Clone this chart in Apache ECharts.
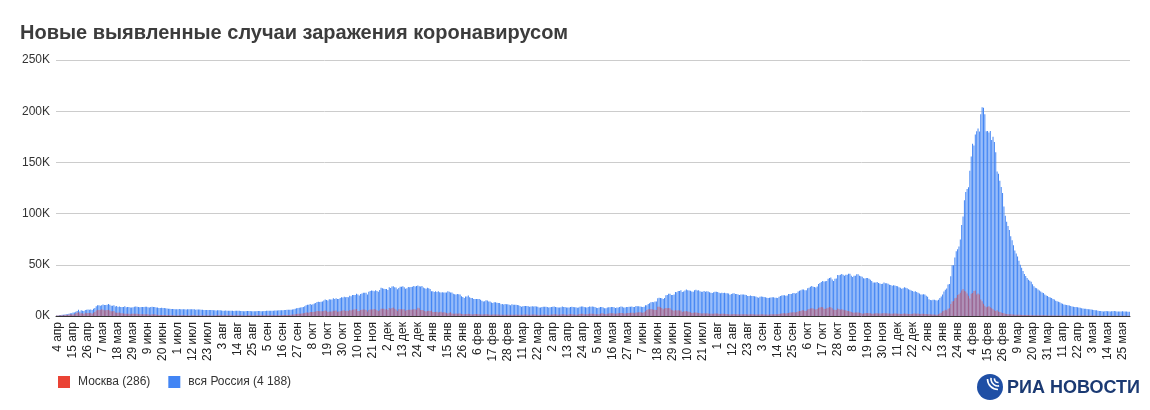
<!DOCTYPE html>
<html>
<head>
<meta charset="utf-8">
<script src="https://cdn.jsdelivr.net/npm/echarts@6/dist/echarts.min.js"></script>
<style>
html,body{margin:0;padding:0;background:#fff;}
#chart{width:1150px;height:410px;}
</style>
</head>
<body>
<div id="chart"></div>
<script>
// Daily new cases, thousands. Start date: 3 Apr 2020.
var startDate = [2020, 3, 3];
var monthNames = ['янв','фев','мар','апр','мая','июн','июл','авг','сен','окт','ноя','дек'];
var seriesNames = ['Москва (286)', 'вся Россия (4 188)'];
var yTicks = [0, 50, 100, 150, 200, 250];

var russia2020 = [
 0.6,0.6,0.7,1.0,1.2,1.2,1.5,1.8,1.7,2.2,2.6,2.8,3.4,3.4,4.1,4.8,6.1,4.3,5.6,5.2,4.8,5.8,6.0,6.4,6.2,6.4,5.8,7.1,
 7.9,9.6,10.6,10.6,10.1,10.6,11.2,10.7,10.8,11.0,11.7,10.9,10.0,10.0,10.6,9.2,9.7,8.9,9.3,8.8,8.8,8.9,9.4,8.6,8.9,8.9,8.3,8.4,8.6,9.0,9.3,
 9.0,8.9,8.5,8.8,8.7,8.9,9.0,9.0,8.6,8.4,8.8,9.0,8.7,8.8,8.2,8.2,7.8,7.8,8.0,7.9,7.7,7.6,7.4,7.2,7.1,6.8,6.9,6.8,6.7,6.7,
 6.6,6.8,6.7,6.6,6.7,6.6,6.4,6.6,6.5,6.6,6.6,6.6,6.5,6.2,6.4,6.4,6.4,6.2,6.1,5.9,5.8,5.9,5.8,5.8,5.9,5.8,5.6,5.5,5.4,5.5,5.5,
 5.5,5.4,5.2,5.2,5.3,5.2,5.2,5.2,5.1,5.1,4.9,5.1,5.1,5.1,5.1,5.0,4.8,4.7,4.7,4.8,4.9,4.9,4.9,4.7,4.7,4.7,4.7,4.8,5.0,4.9,4.7,
 4.7,5.0,5.0,5.1,5.2,5.2,5.1,5.2,5.2,5.4,5.4,5.4,5.5,5.5,5.5,5.7,5.8,5.9,6.1,6.1,6.2,6.2,6.4,6.6,7.2,7.5,7.9,8.1,8.2,8.5,
 8.9,9.4,10.5,10.9,10.9,11.6,11.1,11.5,12.1,12.8,13.6,13.9,13.6,13.8,14.2,15.2,16.0,15.7,15.1,16.3,16.0,16.2,17.3,16.5,17.3,16.6,16.6,17.7,18.3,18.1,18.7,
 18.3,18.6,18.3,19.8,19.4,20.6,20.5,20.4,21.8,21.0,19.9,21.6,22.0,22.7,22.8,22.6,21.0,23.6,24.3,24.8,24.6,24.2,25.2,24.3,23.7,25.5,27.5,27.1,26.7,26.3,
 26.4,25.3,28.1,27.4,28.8,29.0,28.1,27.9,26.1,27.3,28.6,28.6,29.0,28.1,26.7,27.2,28.2,28.0,28.2,28.6,29.4,28.9,29.3,29.9,29.0,28.9,29.3,27.8,27.0,26.5,27.7
];
var russia2021 = [
 27.0,26.3,24.2,24.2,23.4,24.2,23.5,24.2,23.3,22.9,23.3,22.9,22.9,22.9,24.1,23.7,22.9,22.9,21.7,21.2,21.1,21.5,21.3,20.9,19.3,18.6,17.7,19.1,19.0,19.9,18.4,
 17.6,17.5,16.5,16.6,16.7,16.7,16.6,15.9,14.9,14.2,14.5,15.3,15.2,14.2,14.2,13.2,12.8,13.4,13.4,13.0,12.7,12.6,11.5,11.7,11.2,11.6,11.5,11.4,
 11.0,10.6,11.4,11.0,11.0,10.9,10.8,10.6,9.7,9.1,9.4,9.7,9.7,9.8,9.6,9.1,9.3,9.4,9.3,9.6,9.3,9.1,8.4,8.4,8.8,9.1,9.1,9.0,8.9,8.3,8.6,
 8.8,9.0,9.2,8.8,8.6,8.3,8.3,8.6,9.2,8.9,8.7,8.2,8.2,8.2,8.8,9.1,8.8,8.6,8.5,8.1,8.4,9.0,9.3,9.3,8.7,8.6,8.3,8.7,9.3,9.0,
 9.3,9.0,8.7,8.1,7.8,8.3,8.8,8.8,8.4,7.6,7.6,8.2,8.6,8.6,8.8,8.7,8.5,7.8,8.3,8.4,8.9,9.2,9.0,8.4,8.3,8.7,8.8,9.0,9.0,9.2,8.9,
 8.7,9.7,9.5,9.4,9.3,9.1,8.9,9.1,10.4,10.4,11.7,12.5,13.4,13.7,13.4,14.2,14.1,17.3,17.9,17.6,17.4,16.7,17.6,20.2,20.4,21.7,21.7,20.5,20.6,21.0,
 23.5,23.2,24.4,24.4,25.1,23.4,24.0,24.8,25.8,25.1,25.0,24.7,23.9,23.8,25.1,25.7,25.0,25.1,24.2,23.8,23.7,24.5,23.8,24.1,23.9,23.2,22.8,22.4,23.3,23.6,23.8,
 23.5,22.6,22.1,22.7,22.4,22.8,22.3,22.2,21.9,20.8,21.6,21.9,22.3,21.6,21.6,21.0,20.6,21.1,21.0,21.0,20.8,20.6,19.6,19.5,20.0,19.6,19.6,19.3,19.0,18.3,17.8,
 18.8,19.0,18.9,18.6,18.3,17.9,17.5,17.8,18.1,18.4,18.3,17.8,17.9,17.7,18.8,19.6,19.9,20.3,20.2,19.7,19.9,21.4,21.4,21.6,22.2,22.5,21.9,22.4,23.9,24.7,
 25.1,25.8,25.8,25.1,25.1,27.2,27.6,28.5,29.4,28.6,28.2,27.9,28.7,31.3,32.2,33.2,34.3,33.7,33.9,34.1,36.3,37.1,37.7,35.7,34.3,36.4,36.6,40.1,39.8,40.3,41.0,
 40.4,39.2,40.4,40.2,41.3,41.3,39.2,38.1,39.2,39.4,40.8,40.8,39.3,38.8,38.4,36.8,36.6,37.1,37.2,36.4,35.5,34.2,32.6,32.8,32.6,33.2,32.3,31.7,31.2,31.5,
 32.6,32.0,32.1,31.4,30.5,30.2,29.5,30.0,29.8,29.2,29.0,28.0,27.6,26.7,27.2,28.0,27.6,27.0,26.2,25.6,25.0,24.5,23.8,24.2,23.4,22.8,22.0,21.1,21.0,21.3,20.9
];
var russia2022 = [
 19.8,18.7,16.3,15.6,15.4,15.9,15.8,15.4,15.2,15.8,17.5,19.0,21.0,24.0,25.7,26.8,30.7,31.3,38.8,49.5,49.5,57.2,63.2,65.1,67.8,74.7,88.8,97.2,113.1,121.2,124.1,
 125.8,141.9,155.8,168.2,166.6,177.3,180.5,183.1,180.1,197.1,203.9,203.3,197.1,180.4,180.6,179.2,180.6,171.9,175.0,170.0,160.0,141.0,139.0,132.0,126.0,120.0,107.0,98.0,
 92,88,84,78,74,69,64,61,58,54,50,47,44,41,39,37,35.5,34.5,33.5,31,29,27.5,27,26,25,24,23,22.5,21,20,19.5,
 18.5,18,17.5,16.5,16,15,14.5,14,13.5,12.5,12,11.3,11,10.8,10.5,10.2,9.7,9.2,9.0,8.8,8.7,8.5,8.2,8.0,7.6,7.4,7.2,7.0,6.9,6.7,
 6.5,6.3,6.2,5.9,5.7,5.5,5.2,5.0,4.8,4.7,4.5,4.6,4.8,4.7,4.6,4.4,4.6,4.7,4.8,4.6,4.5,4.4,4.3,4.5,4.6,4.5,4.4,4.3,4.2,4.188
];

var moscow2020 = [
 0.44,0.43,0.54,0.7,0.7,0.8,1.0,1.1,1.0,1.4,1.6,1.4,1.5,1.7,2.6,3.1,3.6,2.5,2.6,2.8,2.0,3.1,2.6,2.9,2.9,3.0,2.2,3.1,
 4.0,5.4,6.0,5.9,5.8,6.7,6.0,5.7,5.6,5.9,6.2,5.4,4.7,4.7,4.8,3.5,3.2,3.2,3.5,2.7,2.6,2.4,2.3,2.3,2.1,2.1,1.8,2.1,2.2,2.2,2.2,
 2.2,2.0,1.8,1.6,1.6,1.6,1.6,1.6,1.6,1.2,1.2,1.6,1.4,1.6,1.1,1.1,1.0,1.0,1.0,1.0,1.0,0.9,0.8,0.9,0.8,0.7,0.7,0.7,0.6,0.6,
 0.7,0.7,0.7,0.7,0.7,0.7,0.6,0.7,0.6,0.6,0.7,0.7,0.7,0.6,0.6,0.7,0.6,0.6,0.7,0.6,0.6,0.7,0.6,0.7,0.6,0.6,0.6,0.6,0.7,0.7,0.7,
 0.7,0.7,0.7,0.7,0.7,0.7,0.7,0.7,0.7,0.7,0.6,0.7,0.7,0.7,0.7,0.7,0.7,0.6,0.6,0.6,0.7,0.7,0.7,0.6,0.6,0.6,0.7,0.7,0.7,0.7,0.7,
 0.7,0.7,0.7,0.7,0.7,0.7,0.7,0.7,0.7,0.7,0.7,0.8,0.8,0.8,0.8,1.0,1.0,1.0,1.0,1.0,1.0,1.1,1.5,1.5,1.8,2.0,2.2,2.3,2.3,2.4,
 2.7,2.9,3.5,3.5,3.2,4.0,3.8,4.0,4.1,4.3,4.9,4.9,4.6,4.6,4.6,5.0,5.4,5.1,4.0,4.4,4.3,4.4,5.2,5.1,5.3,4.2,4.3,4.6,5.2,5.3,5.5,
 5.0,5.2,4.9,5.9,5.4,6.0,6.4,6.3,6.9,4.8,5.0,5.8,6.1,6.4,6.4,5.9,4.5,5.9,6.4,6.4,6.4,6.9,6.4,5.7,5.0,5.5,7.2,7.2,7.0,6.4,
 6.8,5.9,7.8,7.0,7.8,8.2,7.0,6.4,5.0,6.6,6.6,6.7,6.4,6.5,5.2,5.8,6.0,6.0,6.1,6.3,6.5,6.6,6.1,8.0,7.5,5.9,5.8,5.6,4.8,4.3,5.0
];
var moscow2021 = [
 5.2,4.8,5.3,4.0,4.0,3.9,4.1,3.5,3.9,4.2,3.4,3.6,3.3,2.9,2.5,3.1,3.6,2.4,2.3,2.2,2.5,2.3,2.4,2.5,2.0,1.7,1.8,2.0,2.0,2.1,1.9,
 1.7,1.5,1.7,1.9,1.9,1.8,1.8,1.5,1.4,1.4,1.6,1.6,1.6,1.5,1.3,1.2,1.4,1.5,1.4,1.4,1.4,1.2,1.1,1.3,1.3,1.3,1.2,1.2,
 1.2,1.1,1.2,1.2,1.3,1.4,1.3,1.1,1.1,1.1,1.3,1.4,1.4,1.4,1.2,1.1,1.3,1.4,1.4,1.4,1.3,1.1,1.0,1.2,1.3,1.3,1.4,1.3,1.1,1.0,1.3,
 1.5,1.5,1.6,1.6,1.5,1.3,1.5,1.5,1.7,1.6,1.5,1.2,1.3,1.6,1.6,1.6,1.5,1.5,1.3,1.3,1.6,1.9,2.1,2.2,1.8,1.8,1.8,2.0,2.4,2.3,
 2.3,2.1,1.8,1.7,1.6,1.8,2.2,2.6,2.4,2.0,1.7,2.1,2.4,2.6,2.7,2.6,2.5,2.1,2.4,2.6,3.0,3.0,3.0,2.5,2.4,2.7,3.0,3.0,3.2,3.2,3.2,
 2.7,3.3,3.5,3.7,3.7,3.4,3.2,3.6,4.7,5.8,6.6,6.7,6.9,6.7,6.0,6.1,5.8,9.1,9.1,8.6,7.7,6.5,7.3,7.9,7.6,7.9,7.5,6.0,5.5,5.2,
 5.9,5.4,5.7,5.3,5.3,4.0,4.7,4.4,4.8,4.4,4.1,3.6,3.0,3.1,3.3,3.3,3.1,3.0,2.6,2.5,2.5,2.6,2.5,2.6,2.4,2.2,2.1,2.1,2.3,2.5,2.4,
 2.4,2.0,1.9,2.1,2.1,2.1,1.9,1.9,1.8,1.5,1.7,1.8,1.9,1.8,1.7,1.6,1.5,1.7,1.8,1.8,1.7,1.6,1.5,1.4,1.6,1.6,1.6,1.5,1.5,1.4,1.4,
 1.5,1.6,1.6,1.5,1.5,1.4,1.3,1.4,1.6,1.7,1.8,1.7,1.6,1.7,2.0,2.3,2.5,2.6,2.6,2.4,2.8,3.0,3.3,3.4,3.6,3.6,3.3,3.8,4.5,4.9,
 5.0,5.6,5.5,5.0,5.1,6.4,6.8,7.3,7.6,7.3,6.7,6.4,6.9,8.1,8.3,8.8,8.5,7.1,6.9,7.6,8.1,8.7,8.5,7.5,6.2,6.0,5.8,7.4,6.9,6.2,6.6,
 6.0,5.5,5.5,5.0,5.0,4.5,3.9,3.3,3.2,3.3,3.5,3.3,3.1,2.9,2.3,2.4,2.8,3.0,3.0,2.7,2.6,2.3,2.2,2.5,2.6,2.8,2.5,2.4,2.4,2.6,
 2.8,2.7,2.6,2.4,2.4,2.1,2.2,2.4,2.5,2.4,2.3,2.1,1.9,2.0,2.1,2.4,2.3,2.1,1.9,1.9,1.9,2.2,2.5,2.5,2.3,2.4,2.0,2.0,2.1,2.2,2.0
];
var moscow2022 = [
 1.9,1.8,1.6,1.6,1.5,1.4,1.4,1.3,1.3,1.6,2.5,3.2,4.6,5.2,6.1,5.5,7.2,7.6,11.7,14.2,14.6,17.3,17.9,20.4,21.2,22.7,25.0,26.3,24.7,24.0,22.0,
 19.8,17.0,21.7,22.4,24.5,24.8,21.1,22.0,21.0,16.0,14.5,12.0,10.0,8.5,9.0,9.5,8.5,7.5,6.5,5.5,5.0,5.5,4.5,3.8,3.3,3.0,2.6,2.3,
 1.9,1.8,1.7,1.6,1.5,1.4,1.3,1.2,1.2,1.1,1.1,1.0,1.0,0.9,0.9,0.9,0.9,0.8,0.8,0.8,0.8,0.8,0.8,0.8,0.7,0.7,0.7,0.7,0.7,0.7,0.6,
 0.6,0.6,0.6,0.6,0.6,0.6,0.6,0.5,0.5,0.5,0.5,0.5,0.5,0.5,0.5,0.5,0.5,0.4,0.4,0.4,0.4,0.4,0.4,0.4,0.4,0.4,0.4,0.4,0.4,0.4,
 0.4,0.4,0.4,0.4,0.4,0.3,0.3,0.3,0.3,0.3,0.3,0.3,0.3,0.3,0.3,0.3,0.3,0.3,0.3,0.3,0.3,0.3,0.3,0.3,0.3,0.3,0.3,0.3,0.3,0.286
];

var russia = russia2020.concat(russia2021, russia2022);
var moscow = moscow2020.concat(moscow2021, moscow2022);

var categories = [];
var d0 = Date.UTC(startDate[0], startDate[1], startDate[2]);
for (var i = 0; i < russia.length; i++) {
  var d = new Date(d0 + i * 86400000);
  categories.push(d.getUTCDate() + ' ' + monthNames[d.getUTCMonth()]);
}

var FONT = '"Liberation Sans", Arial, sans-serif';
var chart = echarts.init(document.getElementById('chart'), null, {renderer: 'canvas'});
chart.setOption({
  animation: false,
  textStyle: {fontFamily: FONT},
  title: {
    text: 'Новые выявленные случаи заражения коронавирусом',
    left: 15, top: 18,
    textStyle: {fontSize: 20, fontWeight: 'bold', color: '#3c3c3c', fontFamily: FONT}
  },
  legend: {
    left: 53, top: 371,
    itemWidth: 12, itemHeight: 12, itemGap: 18,
    icon: 'rect',
    textStyle: {fontSize: 12, color: '#333', fontFamily: FONT, padding: [0, 0, 0, 3]},
    data: [
      {name: seriesNames[0], itemStyle: {color: '#ea4335', opacity: 1}},
      {name: seriesNames[1], itemStyle: {color: '#4285f4', opacity: 1}}
    ]
  },
  grid: {left: 56, right: 20, top: 60, bottom: 94, containLabel: false},
  xAxis: {
    type: 'category',
    data: categories,
    axisLine: {show: true, lineStyle: {color: '#333', width: 1}},
    axisTick: {show: false},
    axisLabel: {
      rotate: 90, fontSize: 12, color: '#222', margin: 6, fontFamily: FONT,
      interval: function (idx) { return (idx - 1) % 11 === 0; }
    },
    splitLine: {show: false}
  },
  yAxis: {
    type: 'value',
    min: yTicks[0], max: yTicks[yTicks.length - 1], interval: yTicks[1] - yTicks[0],
    axisLine: {show: false},
    axisTick: {show: false},
    axisLabel: {fontSize: 12, color: '#333', margin: 6, fontFamily: FONT, formatter: '{value}K'},
    splitLine: {lineStyle: {color: '#cccccc', width: 1}}
  },
  series: [
    {
      name: seriesNames[1], type: 'bar', data: russia,
      barCategoryGap: '30%', barGap: '-100%',
      itemStyle: {color: '#4285f4'}, z: 2
    },
    {
      name: seriesNames[0], type: 'bar', data: moscow,
      barCategoryGap: '30%', barGap: '-100%',
      itemStyle: {color: '#ea4335', opacity: 0.55}, z: 3
    }
  ],
  graphic: [
    {type: 'circle', shape: {cx: 990, cy: 387, r: 13}, style: {fill: '#1f4fa5'}},
    {type: 'arc', shape: {cx: 998, cy: 379, r: 3.5, startAngle: Math.PI * 0.45, endAngle: Math.PI * 1.05}, style: {stroke: '#fff', lineWidth: 1.6, fill: null}},
    {type: 'arc', shape: {cx: 998, cy: 379, r: 7, startAngle: Math.PI * 0.45, endAngle: Math.PI * 1.05}, style: {stroke: '#fff', lineWidth: 1.6, fill: null}},
    {type: 'arc', shape: {cx: 998, cy: 379, r: 10.5, startAngle: Math.PI * 0.5, endAngle: Math.PI * 1.0}, style: {stroke: '#fff', lineWidth: 1.6, fill: null}},
    {type: 'text', left: 1007, top: 379, style: {text: 'РИА НОВОСТИ', fill: '#1b3a73', font: 'bold 18px ' + FONT}}
  ]
});
</script>
</body>
</html>
